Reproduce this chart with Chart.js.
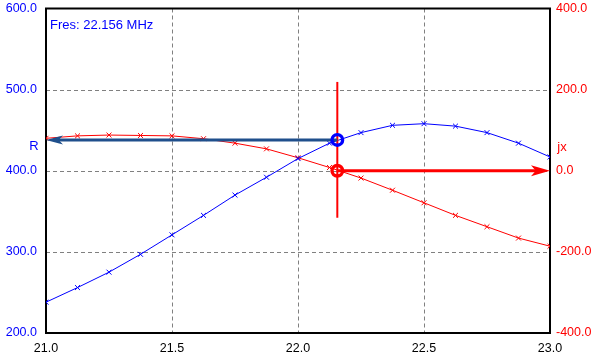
<!DOCTYPE html>
<html>
<head>
<meta charset="utf-8">
<script src="https://cdn.jsdelivr.net/npm/chart.js@4/dist/chart.umd.min.js"></script>
<style>
html,body{margin:0;padding:0;background:#fff;overflow:hidden;}
#wrap{width:601px;height:360px;position:relative;overflow:hidden;}
#c{position:absolute;left:0;top:-8px;}
</style>
</head>
<body>
<div id="wrap"><canvas id="c" width="601" height="368"></canvas></div>
<script>
const freqs = [21.0,21.125,21.25,21.375,21.5,21.625,21.75,21.875,22.0,22.125,22.25,22.375,22.5,22.625,22.75,22.875,23.0];
const rValues = [238,256,275,297,321,345,370,392,415,434,447,456,458,455,447,434,417];
const jxValues = [80,86,88,87,86,79,68,54,32,8,-18,-48,-79,-110,-138,-166,-186];
const xTicks = [21.0,21.5,22.0,22.5,23.0];
const rTicks = [200,300,400,500,600];
const jxTicks = [-400,-200,0,200,400];
const fres = 22.156;
const rAtFres = 438;
const jxAtFres = 0;
const fresLabel = 'Fres: 22.156 MHz';

const FONT = {family:'"Liberation Sans", Arial, sans-serif', size:12.5};

const annot = {
  id:'annot',
  beforeDatasetsDraw(chart){
    const {ctx, chartArea:a, scales} = chart;
    ctx.save();
    ctx.strokeStyle='#808080';
    ctx.lineWidth=1;
    ctx.setLineDash([4,3]);
    xTicks.slice(1,-1).forEach(v=>{
      const px = Math.round(scales.x.getPixelForValue(v))+0.5;
      ctx.beginPath(); ctx.moveTo(px,a.top); ctx.lineTo(px,a.bottom); ctx.stroke();
    });
    rTicks.slice(1,-1).forEach(v=>{
      const py = Math.round(scales.y.getPixelForValue(v))+0.5;
      ctx.beginPath(); ctx.moveTo(a.left,py); ctx.lineTo(a.right,py); ctx.stroke();
    });
    ctx.setLineDash([]);
    ctx.strokeStyle='#000';
    ctx.lineWidth=2;
    ctx.strokeRect(a.left, a.top, a.right-a.left, a.bottom-a.top);
    ctx.restore();
  },
  afterDatasetsDraw(chart){
    const {ctx, chartArea:a, scales} = chart;
    const x = scales.x, y = scales.y, y2 = scales.y2;
    const fx = x.getPixelForValue(fres);
    const ry = y.getPixelForValue(rAtFres);
    const jy = y2.getPixelForValue(jxAtFres);
    ctx.save();
    ctx.strokeStyle='#ff0000';
    ctx.lineWidth=2;
    ctx.beginPath();
    ctx.moveTo(fx, ry-58); ctx.lineTo(fx, jy+47); ctx.stroke();
    function arrow(x1,yy,x2,color,lw,hl,hw){
      const dir = Math.sign(x2-x1);
      ctx.strokeStyle=color; ctx.fillStyle=color; ctx.lineWidth=lw;
      ctx.beginPath(); ctx.moveTo(x1,yy); ctx.lineTo(x2-dir*hl*0.7,yy); ctx.stroke();
      ctx.beginPath();
      ctx.moveTo(x2,yy);
      ctx.lineTo(x2-dir*hl,yy-hw);
      ctx.lineTo(x2-dir*hl*0.75,yy);
      ctx.lineTo(x2-dir*hl,yy+hw);
      ctx.closePath(); ctx.fill();
    }
    arrow(fx, ry, x.getPixelForValue(x.min), '#1f4f8c', 3, 17, 4.5);
    arrow(fx, jy, x.getPixelForValue(x.max), '#ff0000', 3, 19, 5.5);
    ctx.lineWidth=3.4;
    ctx.strokeStyle='#0000ff';
    ctx.beginPath(); ctx.arc(fx, ry, 5.3, 0, Math.PI*2); ctx.stroke();
    ctx.strokeStyle='#ff0000';
    ctx.beginPath(); ctx.arc(fx, jy, 5.3, 0, Math.PI*2); ctx.stroke();
    ctx.font = '13px "Liberation Sans", Arial, sans-serif';
    ctx.textBaseline='middle';
    ctx.fillStyle='#0000ff';
    ctx.textAlign='left';
    ctx.fillText(fresLabel, a.left+4, a.top+17);
    ctx.textAlign='center';
    ctx.fillText('R', a.left-12, y.getPixelForValue(rAtFres)+6);
    ctx.fillStyle='#ff0000';
    ctx.fillText('jx', a.right+12, y2.getPixelForValue(jxAtFres)-23);
    ctx.restore();
  }
};

new Chart(document.getElementById('c'), {
  type:'line',
  data:{
    datasets:[
      {label:'R', data:freqs.map((f,i)=>({x:f,y:rValues[i]})), yAxisID:'y',
       borderColor:'#0000ff', backgroundColor:'#0000ff', borderWidth:1,
       pointStyle:'crossRot', pointRadius:3.5, pointBorderWidth:1, pointBorderColor:'#0000ff', tension:0},
      {label:'jx', data:freqs.map((f,i)=>({x:f,y:jxValues[i]})), yAxisID:'y2',
       borderColor:'#ff0000', backgroundColor:'#ff0000', borderWidth:1,
       pointStyle:'crossRot', pointRadius:3.5, pointBorderWidth:1, pointBorderColor:'#ff0000', tension:0}
    ]
  },
  options:{
    responsive:false, animation:false, devicePixelRatio:1,
    layout:{padding:{top:0,left:0,right:0,bottom:-3}},
    plugins:{legend:{display:false}, tooltip:{enabled:false}},
    scales:{
      x:{type:'linear', min:21, max:23,
         afterBuildTicks(s){ s.ticks = xTicks.map(v=>({value:v})); },
         afterFit(s){ s.height = 30; },
         ticks:{color:'#000', font:FONT, padding:8, maxRotation:0, callback:v=>Number(v).toFixed(1)},
         grid:{display:false, drawTicks:false},
         border:{display:false}},
      y:{type:'linear', position:'left', min:200, max:600,
         afterBuildTicks(s){ s.ticks = rTicks.map(v=>({value:v})); },
         afterFit(s){ s.width = 46; },
         ticks:{color:'#0000ff', font:FONT, padding:9, callback:v=>Number(v).toFixed(1)},
         grid:{display:false, drawTicks:false},
         border:{display:false}},
      y2:{type:'linear', position:'right', min:-400, max:400,
         afterBuildTicks(s){ s.ticks = jxTicks.map(v=>({value:v})); },
         afterFit(s){ s.width = 51; },
         ticks:{color:'#ff0000', font:FONT, padding:6, callback:v=>Number(v).toFixed(1)},
         grid:{display:false, drawTicks:false},
         border:{display:false}}
    }
  },
  plugins:[annot]
});
</script>
</body>
</html>
